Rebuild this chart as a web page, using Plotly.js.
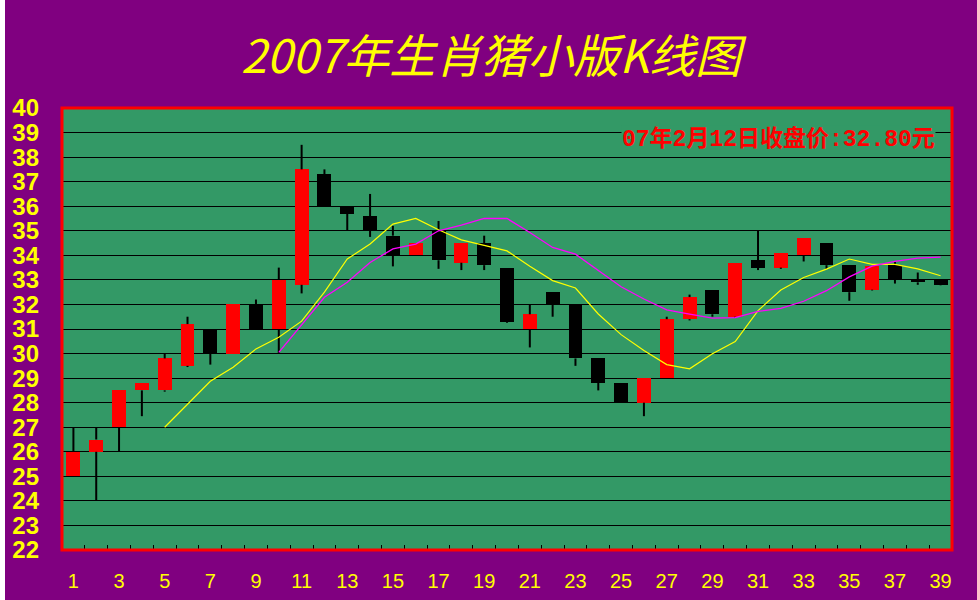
<!DOCTYPE html>
<html>
<head>
<meta charset="utf-8">
<script src="https://cdn.plot.ly/plotly-3.0.1.min.js"></script>
<style>
html,body{margin:0;padding:0;background:#ffffff;}
#chart{position:absolute;left:5px;top:0;width:972px;height:600px;}
</style>
</head>
<body>
<div id="chart"></div>
<script>
// ---- data ----
const days = [1,2,3,4,5,6,7,8,9,10,11,12,13,14,15,16,17,18,19,20,21,22,23,24,25,26,27,28,29,30,31,32,33,34,35,36,37,38,39];
const openP  = [25.0,26.0,27.0,28.5,28.5,29.5,31.0,30.0,32.0,31.0,32.8,37.3,36.0,35.6,34.8,34.0,35.0,33.7,34.5,33.5,31.0,32.5,32.0,29.8,28.8,28.0,29.0,31.4,32.6,31.5,33.8,33.5,34.0,34.5,33.6,32.6,33.6,33.0,33.0];
const closeP = [26.0,26.5,28.5,28.8,29.8,31.2,30.0,32.0,31.0,33.0,37.5,36.0,35.7,35.0,34.0,34.5,33.8,34.5,33.6,31.3,31.6,32.0,29.8,28.8,28.0,29.0,31.4,32.3,31.6,33.7,33.5,34.1,34.7,33.6,32.5,33.55,33.0,32.9,32.8];
const highP  = [27.0,27.0,28.5,28.8,30.0,31.5,31.0,32.0,32.2,33.5,38.5,37.5,36.0,36.5,35.2,34.5,35.4,34.5,34.8,33.5,32.0,32.5,32.0,29.8,28.8,29.0,31.5,32.4,32.6,33.7,35.0,34.1,34.7,34.5,33.6,33.55,33.75,33.3,33.0];
const lowP   = [25.0,24.0,26.0,27.45,28.45,29.45,29.55,30.0,31.0,30.0,32.45,36.0,35.0,34.75,33.55,34.0,33.45,33.4,33.4,31.25,30.25,31.5,29.5,28.5,28.0,27.45,29.0,31.35,31.5,31.45,33.4,33.45,33.75,33.45,32.15,32.57,32.85,32.8,32.78];
const ma5Days = [5,6,7,8,9,10,11,12,13,14,15,16,17,18,19,20,21,22,23,24,25,26,27,28,29,30,31,32,33,34,35,36,37,38,39];
const ma5 = [27.0,27.92,28.87,29.44,30.19,30.66,31.32,32.5,33.85,34.46,35.27,35.5,35.04,34.63,34.39,34.18,33.56,32.97,32.67,31.61,30.77,30.12,29.55,29.38,29.99,30.49,31.75,32.59,33.1,33.44,33.85,33.63,33.63,33.45,33.17];
const ma10Days = [10,11,12,13,14,15,16,17,18,19,20,21,22,23,24,25,26,27,28,29,30,31,32,33,34,35,36,37,38,39];
const ma10 = [30.05,31.15,32.29,32.9,33.71,34.26,34.46,35.0,35.23,35.5,35.5,34.93,34.32,34.05,33.37,32.72,32.22,31.78,31.61,31.44,31.46,31.72,31.84,32.13,32.56,33.12,33.56,33.75,33.89,33.93];
const xTickLabels = ['1','3','5','7','9','11','13','15','17','19','21','23','25','27','29','31','33','35','37','39'];
const yTickLabels = ['22','23','24','25','26','27','28','29','30','31','32','33','34','35','36','37','38','39','40'];
const titleText = '2007年生肖猪小版K线图';
const noteText = '07年2月12日收盘价:32.80元';

// ---- derived traces ----
const bodyBase = [], bodyLen = [], bodyColor = [];
const wx = [], wy = [];
for (let i = 0; i < days.length; i++) {
  const top = Math.max(openP[i], closeP[i]);
  const bot = Math.min(openP[i], closeP[i]);
  bodyBase.push(bot);
  bodyLen.push(Math.max(top - bot, 0.04));
  bodyColor.push(closeP[i] >= openP[i] ? '#FF0000' : '#000000');
  if (highP[i] > top) { wx.push(days[i], days[i], null); wy.push(top, highP[i], null); }
  if (lowP[i] < bot)  { wx.push(days[i], days[i], null); wy.push(lowP[i], bot, null); }
}
const boundaryTicks = [];
for (let i = 0; i < days.length - 1; i++) boundaryTicks.push((days[i] + days[i+1]) / 2);

const traces = [
  {type:'bar', x:days, y:bodyLen, base:bodyBase, width:0.61,
   marker:{color:bodyColor, line:{width:0}}, hoverinfo:'skip'},
  {type:'scatter', mode:'lines', x:wx, y:wy, connectgaps:false,
   line:{color:'#000000', width:2}, hoverinfo:'skip'},
  {type:'scatter', mode:'lines', x:ma5Days, y:ma5,
   line:{color:'#FFFF00', width:1.2}, hoverinfo:'skip'},
  {type:'scatter', mode:'lines', x:ma10Days, y:ma10,
   line:{color:'#FF00FF', width:1.3}, hoverinfo:'skip'},
  {type:'scatter', mode:'markers', x:[1], y:[22], xaxis:'x2', marker:{opacity:0}, hoverinfo:'skip'}
];

const layout = {
  width:972, height:600,
  paper_bgcolor:'#800080', plot_bgcolor:'#339966',
  margin:{l:57, r:25, t:108, b:50},
  showlegend:false,
  title:{text:titleText, x:0.5, xanchor:'center', y:0.906, yanchor:'middle', yref:'container',
         font:{family:'"Noto Sans CJK SC", sans-serif', size:46, color:'#FFFF00', style:'italic'}},
  xaxis:{range:[0.5,39.5], tickvals:xTickLabels.map(Number), ticktext:xTickLabels,
         showgrid:false, zeroline:false, showline:false, ticks:'',
         ticklabelstandoff:17,
         tickfont:{family:'"Liberation Sans", Arial, sans-serif', size:20, color:'#FFFF00'}},
  xaxis2:{overlaying:'x', matches:'x', range:[0.5,39.5], tickvals:boundaryTicks,
          showticklabels:false, ticks:'inside', ticklen:5, tickwidth:1, tickcolor:'#000000',
          showgrid:false, zeroline:false, showline:false, side:'bottom'},
  yaxis:{range:[22,40], tickvals:yTickLabels.map(Number), ticktext:yTickLabels,
         showgrid:true, gridcolor:'#000000', gridwidth:1, zeroline:false, showline:false, ticks:'',
         ticklabelstandoff:22,
         tickfont:{family:'"Liberation Sans", Arial, sans-serif', size:24, color:'#FFFF00', weight:'bold'}},
  shapes:[{type:'rect', xref:'paper', yref:'paper', x0:0, x1:1, y0:0, y1:1,
           line:{color:'#FF0000', width:3}, fillcolor:'rgba(0,0,0,0)'}],
  annotations:[{text:noteText, xref:'paper', yref:'y', x:1, xanchor:'right', xshift:-16,
                y:38.72, yanchor:'middle', showarrow:false, bgcolor:'#339966', borderpad:0,
                font:{family:'"Liberation Mono", "Noto Sans CJK SC", monospace', size:23, color:'#FF0000', weight:'bold'}}],
  bargap:0
};

Plotly.newPlot('chart', traces, layout, {staticPlot:true, displayModeBar:false});
</script>
</body>
</html>
